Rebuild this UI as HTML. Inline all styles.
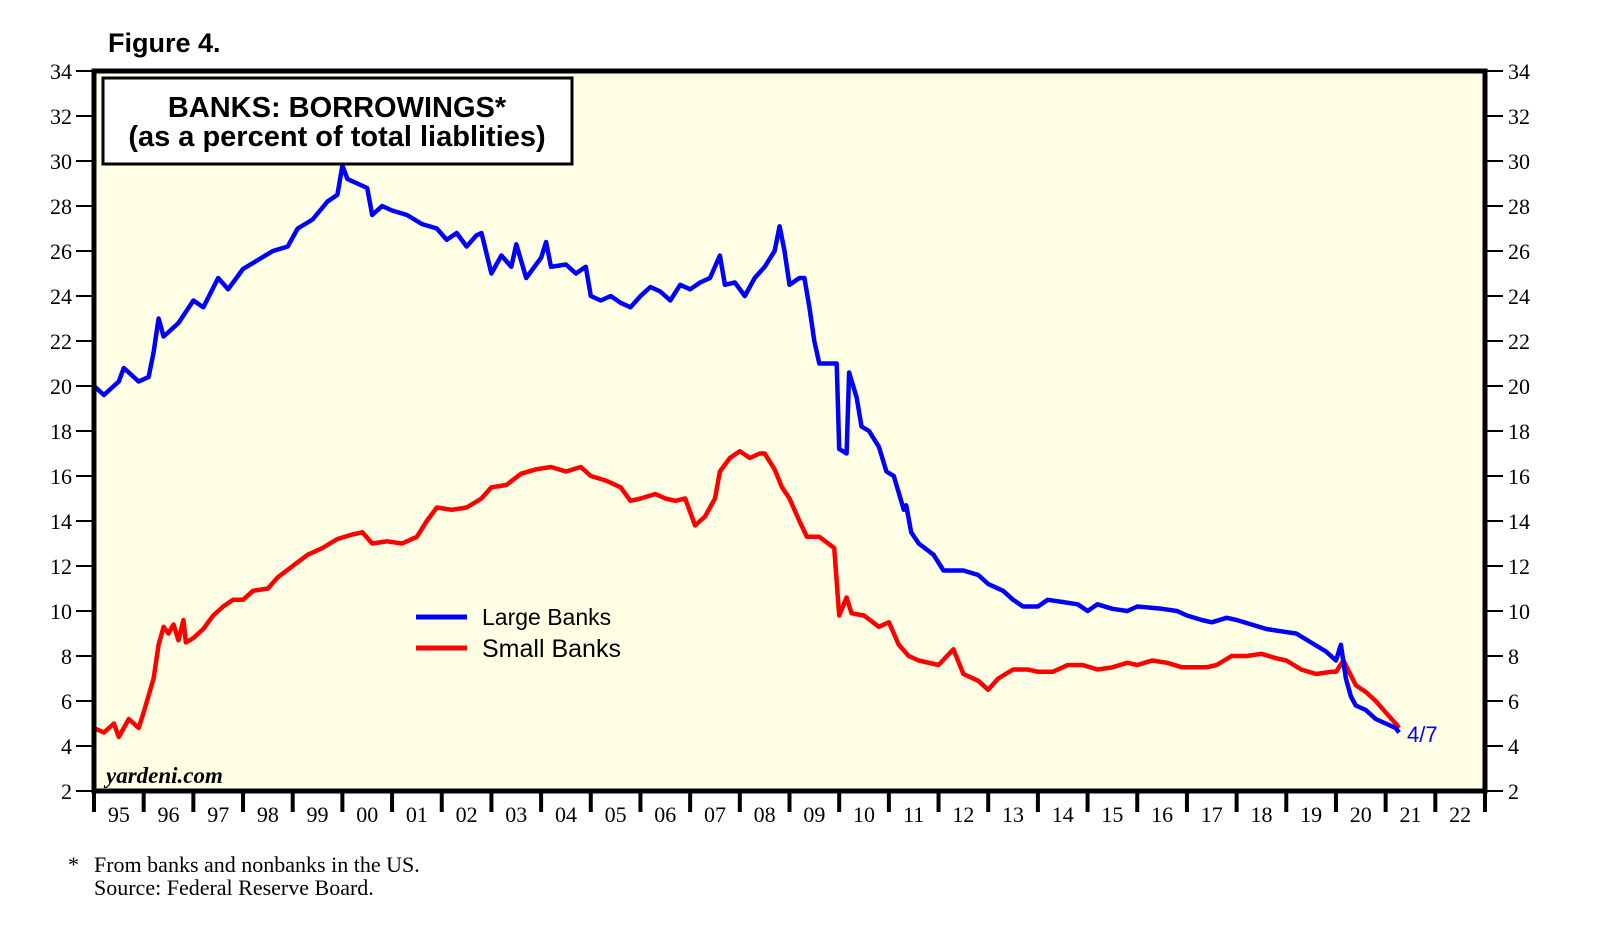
<!DOCTYPE html>
<html><head><meta charset="utf-8"><style>
body{margin:0;background:#fff;}
svg{display:block;}
</style></head><body>
<svg id="chart" width="1610" height="940" viewBox="0 0 1610 940" xmlns="http://www.w3.org/2000/svg">
<rect x="0" y="0" width="1610" height="940" fill="#fff"/>
<text x="108" y="52" font-family="Liberation Sans, sans-serif" font-weight="bold" font-size="27">Figure 4.</text>
<rect x="94" y="71" width="1391" height="720" fill="#ffffe6"/>
<g id="yticks"></g>
<g id="xticks"></g>
<g id="series"></g>
<rect x="94" y="71" width="1391" height="720" fill="none" stroke="#000" stroke-width="5"/>
<g>
<rect x="103" y="78" width="469" height="86" fill="#fff" stroke="#000" stroke-width="3"/>
<text x="337" y="117" text-anchor="middle" font-family="Liberation Sans, sans-serif" font-weight="bold" font-size="29">BANKS: BORROWINGS*</text>
<text x="337" y="146" text-anchor="middle" font-family="Liberation Sans, sans-serif" font-weight="bold" font-size="29">(as a percent of total liablities)</text>
</g>
<g>
<line x1="416" y1="617" x2="467" y2="617" stroke="#0000ff" stroke-width="5"/>
<text x="482" y="625" font-family="Liberation Sans, sans-serif" font-size="23">Large Banks</text>
<line x1="416" y1="648" x2="467" y2="648" stroke="#ff0000" stroke-width="5"/>
<text x="482" y="657" font-family="Liberation Sans, sans-serif" font-size="25">Small Banks</text>
</g>
<text x="106" y="783" font-family="Liberation Serif, serif" font-style="italic" font-weight="bold" font-size="23">yardeni.com</text>
<text x="1407" y="742" font-family="Liberation Sans, sans-serif" font-size="22" fill="#0000ff">4/7</text>
<text x="68" y="872" font-family="Liberation Serif, serif" font-size="22">*</text>
<text x="94" y="872" font-family="Liberation Serif, serif" font-size="22">From banks and nonbanks in the US.</text>
<text x="94" y="895" font-family="Liberation Serif, serif" font-size="22">Source: Federal Reserve Board.</text>
</svg>
<script>
const yTickValues = [2,4,6,8,10,12,14,16,18,20,22,24,26,28,30,32,34];
const yearLabels = ["95","96","97","98","99","00","01","02","03","04","05","06","07","08","09","10","11","12","13","14","15","16","17","18","19","20","21","22"];
const largeTimes = [1995.0,1995.2,1995.5,1995.6,1995.9,1996.1,1996.2,1996.3,1996.4,1996.7,1997.0,1997.2,1997.5,1997.7,1998.0,1998.3,1998.6,1998.9,1999.1,1999.4,1999.7,1999.9,2000.0,2000.1,2000.3,2000.5,2000.6,2000.8,2001.0,2001.3,2001.6,2001.9,2002.1,2002.3,2002.5,2002.7,2002.8,2003.0,2003.2,2003.4,2003.5,2003.7,2003.9,2004.0,2004.1,2004.2,2004.5,2004.7,2004.9,2005.0,2005.2,2005.4,2005.6,2005.8,2006.0,2006.2,2006.4,2006.6,2006.8,2007.0,2007.2,2007.4,2007.6,2007.7,2007.9,2008.1,2008.3,2008.5,2008.7,2008.8,2008.9,2009.0,2009.2,2009.3,2009.4,2009.5,2009.6,2009.95,2010.0,2010.15,2010.2,2010.35,2010.45,2010.6,2010.8,2010.95,2011.1,2011.3,2011.35,2011.45,2011.6,2011.9,2012.1,2012.5,2012.8,2013.0,2013.3,2013.5,2013.7,2014.0,2014.2,2014.5,2014.8,2015.0,2015.2,2015.5,2015.8,2016.0,2016.5,2016.8,2017.0,2017.3,2017.5,2017.8,2018.0,2018.3,2018.6,2018.9,2019.2,2019.5,2019.8,2020.0,2020.1,2020.2,2020.3,2020.4,2020.6,2020.8,2021.0,2021.2,2021.27];
const largeValues = [20.0,19.6,20.2,20.8,20.2,20.4,21.5,23.0,22.2,22.8,23.8,23.5,24.8,24.3,25.2,25.6,26.0,26.2,27.0,27.4,28.2,28.5,29.8,29.2,29.0,28.8,27.6,28.0,27.8,27.6,27.2,27.0,26.5,26.8,26.2,26.7,26.8,25.0,25.8,25.3,26.3,24.8,25.4,25.7,26.4,25.3,25.4,25.0,25.3,24.0,23.8,24.0,23.7,23.5,24.0,24.4,24.2,23.8,24.5,24.3,24.6,24.8,25.8,24.5,24.6,24.0,24.8,25.3,26.0,27.1,26.0,24.5,24.8,24.8,23.5,22.0,21.0,21.0,17.2,17.0,20.6,19.5,18.2,18.0,17.3,16.2,16.0,14.5,14.7,13.5,13.0,12.5,11.8,11.8,11.6,11.2,10.9,10.5,10.2,10.2,10.5,10.4,10.3,10.0,10.3,10.1,10.0,10.2,10.1,10.0,9.8,9.6,9.5,9.7,9.6,9.4,9.2,9.1,9.0,8.6,8.2,7.8,8.5,7.0,6.2,5.8,5.6,5.2,5.0,4.8,4.6];
const smallTimes = [1995.0,1995.2,1995.4,1995.5,1995.7,1995.9,1996.0,1996.2,1996.3,1996.4,1996.5,1996.6,1996.7,1996.8,1996.85,1997.0,1997.2,1997.4,1997.6,1997.8,1998.0,1998.2,1998.5,1998.7,1999.0,1999.3,1999.6,1999.9,2000.2,2000.4,2000.6,2000.9,2001.2,2001.5,2001.7,2001.9,2002.2,2002.5,2002.8,2003.0,2003.3,2003.6,2003.9,2004.2,2004.5,2004.8,2005.0,2005.3,2005.6,2005.8,2006.0,2006.3,2006.5,2006.7,2006.9,2007.1,2007.3,2007.5,2007.6,2007.8,2008.0,2008.2,2008.4,2008.5,2008.7,2008.85,2009.0,2009.2,2009.35,2009.6,2009.9,2010.0,2010.15,2010.25,2010.5,2010.8,2011.0,2011.2,2011.4,2011.6,2012.0,2012.3,2012.5,2012.8,2013.0,2013.2,2013.5,2013.8,2014.0,2014.3,2014.6,2014.9,2015.2,2015.5,2015.8,2016.0,2016.3,2016.6,2016.9,2017.1,2017.4,2017.6,2017.9,2018.2,2018.5,2018.8,2019.0,2019.3,2019.6,2019.9,2020.0,2020.15,2020.4,2020.6,2020.8,2021.0,2021.2,2021.27];
const smallValues = [4.8,4.6,5.0,4.4,5.2,4.8,5.5,7.0,8.5,9.3,9.0,9.4,8.7,9.6,8.6,8.8,9.2,9.8,10.2,10.5,10.5,10.9,11.0,11.5,12.0,12.5,12.8,13.2,13.4,13.5,13.0,13.1,13.0,13.3,14.0,14.6,14.5,14.6,15.0,15.5,15.6,16.1,16.3,16.4,16.2,16.4,16.0,15.8,15.5,14.9,15.0,15.2,15.0,14.9,15.0,13.8,14.2,15.0,16.2,16.8,17.1,16.8,17.0,17.0,16.3,15.5,15.0,14.0,13.3,13.3,12.8,9.8,10.6,9.9,9.8,9.3,9.5,8.5,8.0,7.8,7.6,8.3,7.2,6.9,6.5,7.0,7.4,7.4,7.3,7.3,7.6,7.6,7.4,7.5,7.7,7.6,7.8,7.7,7.5,7.5,7.5,7.6,8.0,8.0,8.1,7.9,7.8,7.4,7.2,7.3,7.3,7.8,6.7,6.4,6.0,5.5,5.0,4.8,4.7];

const NS = "http://www.w3.org/2000/svg";
const X0 = 94, X1 = 1485, T0 = 1995, T1 = 2023;
const Y0 = 791, Y1 = 71, V0 = 2, V1 = 34;
function xScale(t){ return X0 + (t - T0) / (T1 - T0) * (X1 - X0); }
function yScale(v){ return Y0 - (v - V0) / (V1 - V0) * (Y0 - Y1); }
function mk(tag, attrs, parent){ const e = document.createElementNS(NS, tag); for (const k in attrs) e.setAttribute(k, attrs[k]); parent.appendChild(e); return e; }

const yg = document.getElementById('yticks');
yTickValues.forEach(v => {
  const y = yScale(v);
  const l = mk('line', {x1: 76, x2: 92, y1: y, y2: y, stroke: '#000', 'stroke-width': 2}, yg);
  
  
  const r = mk('line', {x1: 1487, x2: 1503, y1: y, y2: y, stroke: '#000', 'stroke-width': 2}, yg);
  
  
  const tl = mk('text', {x: 72, y: y + 8, 'text-anchor': 'end', 'font-family': 'Liberation Serif, serif', 'font-size': 22}, yg);
  tl.textContent = v;
  
  
  const tr = mk('text', {x: 1508, y: y + 8, 'font-family': 'Liberation Serif, serif', 'font-size': 22}, yg);
  tr.textContent = v;
  
  
});

const xg = document.getElementById('xticks');
for (let i = 0; i <= yearLabels.length; i++) {
  const x = xScale(T0 + i);
  const t = mk('line', {x1: x, x2: x, y1: 791, y2: 812, stroke: '#000', 'stroke-width': 4}, xg);
  
  
}
yearLabels.forEach((lab, i) => {
  const t = mk('text', {x: xScale(T0 + i + 0.5), y: 822, 'text-anchor': 'middle', 'font-family': 'Liberation Serif, serif', 'font-size': 22}, xg);
  t.textContent = lab;
  
  
});

const sg = document.getElementById('series');
function pts(ts, vs){ return ts.map((t, i) => xScale(t).toFixed(1) + ',' + yScale(vs[i]).toFixed(1)).join(' '); }
const red = mk('polyline', {points: pts(smallTimes, smallValues), fill: 'none', stroke: '#ff0000', 'stroke-width': 4.5, 'stroke-linejoin': 'round'}, sg);


const blue = mk('polyline', {points: pts(largeTimes, largeValues), fill: 'none', stroke: '#0000ff', 'stroke-width': 4.5, 'stroke-linejoin': 'round'}, sg);


</script>
</body></html>
